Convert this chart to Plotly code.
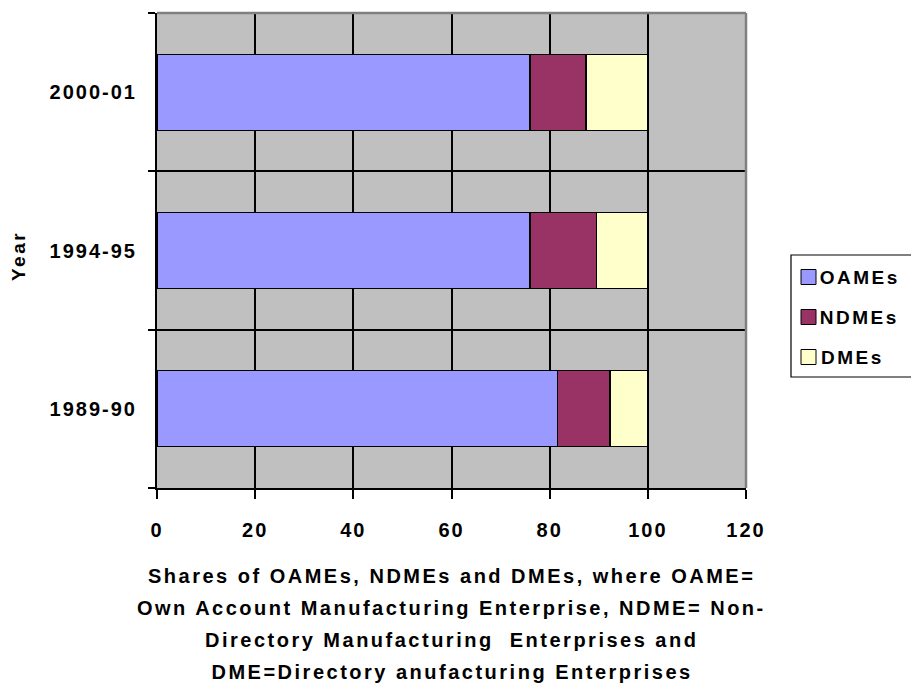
import plotly.graph_objects as go

# Shares of manufacturing enterprise types by survey year (percent)
years = ["1989-90", "1994-95", "2000-01"]
oames = [81.6, 76.0, 76.0]
ndmes = [10.7, 13.5, 11.4]
dmes = [7.7, 10.5, 12.6]

series_names = ["OAMEs", "NDMEs", "DMEs"]
series_colors = ["#9999FF", "#993366", "#FFFFCC"]

x_ticks = [0, 20, 40, 60, 80, 100, 120]
x_title_lines = [
    "Shares of OAMEs, NDMEs and DMEs, where OAME=",
    "Own Account Manufacturing Enterprise, NDME= Non-",
    "Directory Manufacturing  Enterprises and",
    "DME=Directory anufacturing Enterprises",
]

FONT = "Liberation Sans, Arial, sans-serif"
W, H = 911, 684
L, R, T, B = 157, 165, 13, 196
plot_h = H - T - B
plot_w = W - L - R


def py(ypix):
    return (H - B - ypix) / plot_h


def px(xpix):
    return (xpix - L) / plot_w


fig = go.Figure()
for name, vals, col in zip(series_names, [oames, ndmes, dmes], series_colors):
    fig.add_trace(go.Bar(
        y=years, x=vals, name=name, orientation="h",
        marker=dict(color=col, line=dict(color="black", width=1.2)),
        showlegend=False,
    ))

annotations = []
line_y = [576, 608, 640, 672]
for txt, yy in zip(x_title_lines, line_y):
    annotations.append(dict(
        text=txt, xref="paper", yref="paper", x=0.5, y=py(yy),
        xanchor="center", yanchor="middle", showarrow=False,
        font=dict(family=FONT, size=20, color="black", weight="bold"),
    ))
annotations.append(dict(
    text="Year", xref="paper", yref="paper", x=px(18), y=py(256),
    xanchor="center", yanchor="middle", showarrow=False, textangle=-90,
    font=dict(family=FONT, size=19, color="black", weight="bold"),
))

shapes = [
    dict(type="line", xref="paper", yref="paper", x0=0, x1=1, y0=1, y1=1,
         line=dict(color="#808080", width=2.5), layer="above"),
    dict(type="line", xref="paper", yref="paper", x0=1, x1=1, y0=0, y1=1,
         line=dict(color="#808080", width=2.5), layer="above"),
    # legend box (runs past the right edge of the page)
    dict(type="rect", xref="paper", yref="paper",
         x0=px(791), x1=px(925), y0=py(377), y1=py(255),
         line=dict(color="black", width=1.2), fillcolor="white", layer="above"),
]

# legend entries: swatch + label for each series
legend_rows = [277, 317, 357]
for name, col, yy in zip(series_names, series_colors, legend_rows):
    shapes.append(dict(
        type="rect", xref="paper", yref="paper",
        x0=px(801), x1=px(816), y0=py(yy + 7.5), y1=py(yy - 7.5),
        line=dict(color="black", width=1), fillcolor=col, layer="above",
    ))
    annotations.append(dict(
        text=name, xref="paper", yref="paper", x=px(824), y=py(yy),
        xanchor="left", yanchor="middle", showarrow=False,
        font=dict(family=FONT, size=19, color="black", weight="bold"),
    ))

fig.update_layout(
    width=W, height=H,
    margin=dict(l=L, r=R, t=T, b=B, autoexpand=False),
    paper_bgcolor="white", plot_bgcolor="#C0C0C0",
    barmode="stack", bargap=0.52, showlegend=False,
    font=dict(family=FONT, size=20, color="black", weight="bold"),
    xaxis=dict(
        range=[0, 120], tickvals=x_ticks, ticks="outside", ticklen=9,
        tickwidth=1.5, tickcolor="black", showgrid=True, gridcolor="black",
        gridwidth=1.5, zeroline=False, showline=True, linecolor="black",
        linewidth=2, ticklabelstandoff=14,
        tickfont=dict(family=FONT, size=20, color="black", weight="bold"),
    ),
    yaxis=dict(
        type="category", categoryorder="array", categoryarray=years,
        tickson="boundaries", ticks="outside", ticklen=7, tickwidth=1.5,
        tickcolor="black", showgrid=True, gridcolor="black", gridwidth=1.5,
        showline=True, linecolor="black", linewidth=2, ticklabelstandoff=14,
        tickfont=dict(family=FONT, size=20, color="black", weight="bold"),
    ),
    annotations=annotations,
    shapes=shapes,
)

spacing_js = """
var gd = document.getElementById('{plot_id}');
gd.querySelectorAll('.xtick text, .ytick text').forEach(function(t){ t.style.letterSpacing = '2px'; });
gd.querySelectorAll('.annotation-text').forEach(function(t){ t.style.letterSpacing = '2.5px'; });
"""

fig.write_html("out.html", post_script=spacing_js)
